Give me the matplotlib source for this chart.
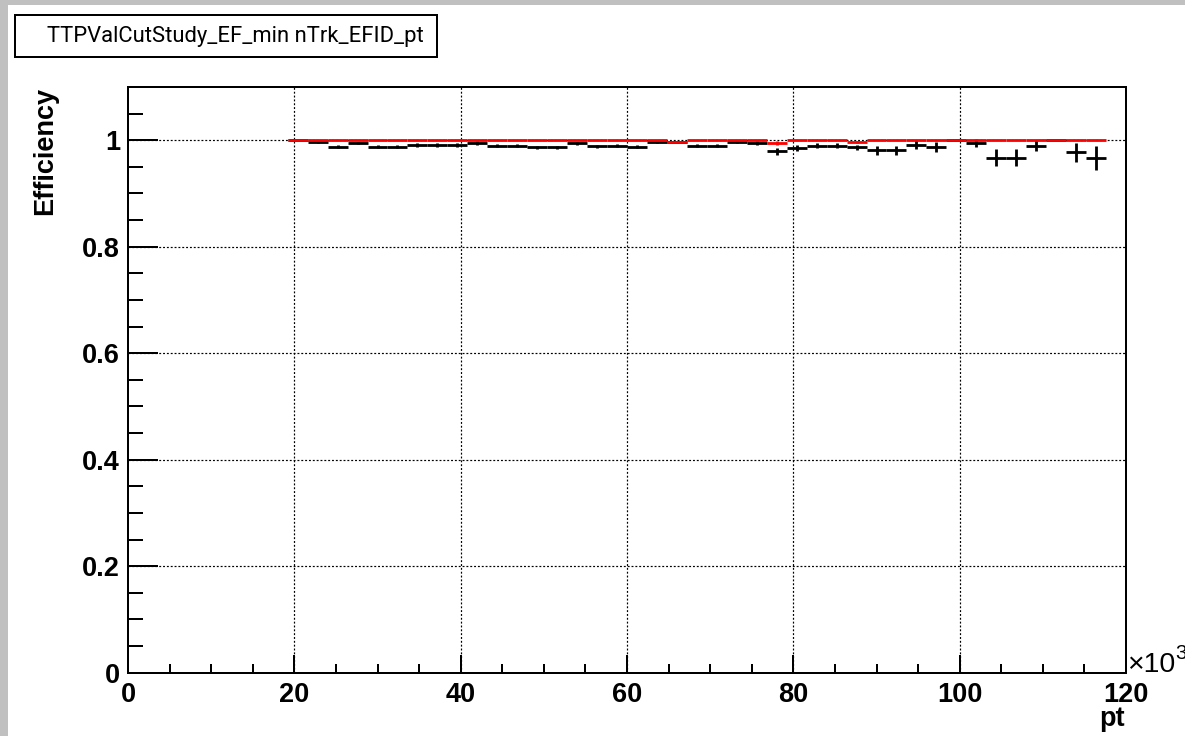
import numpy as np
import matplotlib
matplotlib.use("Agg")
import matplotlib.pyplot as plt
from matplotlib.patches import Rectangle
from matplotlib.ticker import FixedLocator, MultipleLocator

plt.rcParams['font.family'] = ['Liberation Sans', 'DejaVu Sans']

# ---------------- data ----------------
title = "TTPValCutStudy_EF_min nTrk_EFID_pt"
x_label = "pt"
y_label = "Efficiency"

# histogram binning: 50 bins from 0 to 120 (x10^3); filled bins start at bin 8
n_bins = 50
x_range = (0.0, 120.0)
first_bin = 8

# black: measured efficiency per bin
eff_values = [1.000, 0.997, 0.988, 0.995, 0.988, 0.988, 0.991, 0.991, 0.991,
              0.995, 0.990, 0.990, 0.987, 0.987, 0.994, 0.989, 0.990, 0.988,
              0.997, 0.996, 0.990, 0.990, 0.997, 0.995, 0.979, 0.986, 0.990,
              0.990, 0.987, 0.981, 0.981, 0.992, 0.987, 1.000, 0.995, 0.967,
              0.967, 0.990, 1.000, 0.977, 0.967]
eff_errors = [0.000, 0.002, 0.003, 0.002, 0.003, 0.003, 0.003, 0.003, 0.003,
              0.003, 0.003, 0.003, 0.003, 0.003, 0.003, 0.003, 0.003, 0.003,
              0.002, 0.002, 0.003, 0.003, 0.003, 0.003, 0.006, 0.006, 0.005,
              0.005, 0.005, 0.009, 0.009, 0.008, 0.010, 0.000, 0.008, 0.016,
              0.016, 0.010, 0.000, 0.017, 0.022]
# red: reference efficiency per bin
ref_values = [1.000] * 19 + [0.997] + [1.000] * 4 + [0.995] + [1.000] * 3 + [0.997] + [1.000] * 12
ref_errors = [0.000] * 24 + [0.003] + [0.000] * 3 + [0.002] + [0.000] * 12

x_ticks = [0, 20, 40, 60, 80, 100, 120]
x_tick_labels = ["0", "20", "40", "60", "80", "100", "120"]
y_ticks = [0.0, 0.2, 0.4, 0.6, 0.8, 1.0]
y_tick_labels = ["0", "0.2", "0.4", "0.6", "0.8", "1"]

# ---------------- figure ----------------
W, H = 1185, 736
PX = 72.0 / 100.0  # points per pixel
fig = plt.figure(figsize=(W / 100, H / 100), dpi=100)
fig.patch.set_facecolor("white")

# grey canvas border (top and left)
gray = "#c0c0c0"
fig.patches.append(Rectangle((0, 1 - 5 / H), 1, 5 / H, transform=fig.transFigure,
                             facecolor=gray, edgecolor="none", zorder=0))
fig.patches.append(Rectangle((0, 0), 8 / W, 1, transform=fig.transFigure,
                             facecolor=gray, edgecolor="none", zorder=0))

x0, x1, y_top, y_bot = 128, 1126, 87, 672.7
ax = fig.add_axes([x0 / W, 1 - y_bot / H, (x1 - x0) / W, (y_bot - y_top) / H])
ax.set_xlim(*x_range)
ax.set_ylim(0, 1.1)

edges = np.linspace(x_range[0], x_range[1], n_bins + 1)
centers = 0.5 * (edges[:-1] + edges[1:])
half_w = 0.5 * (edges[1] - edges[0])
xc = centers[first_bin:first_bin + len(eff_values)]

# grid
grid_kw = dict(color="black", lw=1.2 * PX, linestyle=(0, (1.6, 1.6)), zorder=1)
for t in x_ticks[1:-1]:
    ax.axvline(t, **grid_kw)
for t in y_ticks[1:]:
    ax.axhline(t, **grid_kw)

ax.errorbar(xc, eff_values, xerr=half_w, yerr=eff_errors, fmt="none",
            ecolor="black", elinewidth=2.8 * PX, capsize=0, zorder=3)
ax.errorbar(xc, ref_values, xerr=half_w, yerr=ref_errors, fmt="none",
            ecolor="#ff0000", elinewidth=2.8 * PX, capsize=0, zorder=4)

# axes styling
for s in ax.spines.values():
    s.set_linewidth(2 * PX)
    s.set_color("black")

ax.xaxis.set_major_locator(FixedLocator(x_ticks))
ax.set_xticklabels(x_tick_labels)
ax.xaxis.set_minor_locator(MultipleLocator(5))
ax.yaxis.set_major_locator(FixedLocator(y_ticks))
ax.set_yticklabels(y_tick_labels)
ax.yaxis.set_minor_locator(MultipleLocator(0.05))

ax.tick_params(axis="x", which="major", direction="in", length=18 * PX, width=2 * PX,
               pad=9 * PX, labelsize=19.5, top=False)
ax.tick_params(axis="x", which="minor", direction="in", length=9 * PX, width=2 * PX, top=False)
ax.tick_params(axis="y", which="major", direction="in", length=30 * PX, width=2 * PX,
               pad=8 * PX, labelsize=19.5, right=False)
ax.tick_params(axis="y", which="minor", direction="in", length=15 * PX, width=2 * PX, right=False)
for lab in ax.get_xticklabels() + ax.get_yticklabels():
    lab.set_fontweight("bold")

# axis titles
fig.text(45 / W, 1 - 87 / H, y_label, rotation=90, ha="center", va="top",
         fontsize=19.5, fontweight="bold")
fig.text(1125 / W, 1 - 726 / H, x_label, ha="right", va="baseline",
         fontsize=19.5, fontweight="bold")
fig.text(1127 / W, 1 - 672 / H, "\u00d710", ha="left", va="baseline", fontsize=20.5)
fig.text(1175 / W, 1 - 659 / H, "3", ha="left", va="baseline", fontsize=15)

# title box
fig.patches.append(Rectangle((15 / W, 1 - 57 / H), 422 / W, 42 / H, transform=fig.transFigure,
                             facecolor="white", edgecolor="black", lw=2 * PX, zorder=2))
t = fig.text(235 / W, 1 - 42 / H, title, ha="center", va="baseline",
             fontsize=17, family=["Roboto", "Liberation Sans", "DejaVu Sans"], zorder=3)
# fit the title to the width it has in the box
fig.canvas.draw()
bb = t.get_window_extent()
t.set_fontsize(17 * 377 / bb.width)

fig.savefig("out.png", dpi=100)
